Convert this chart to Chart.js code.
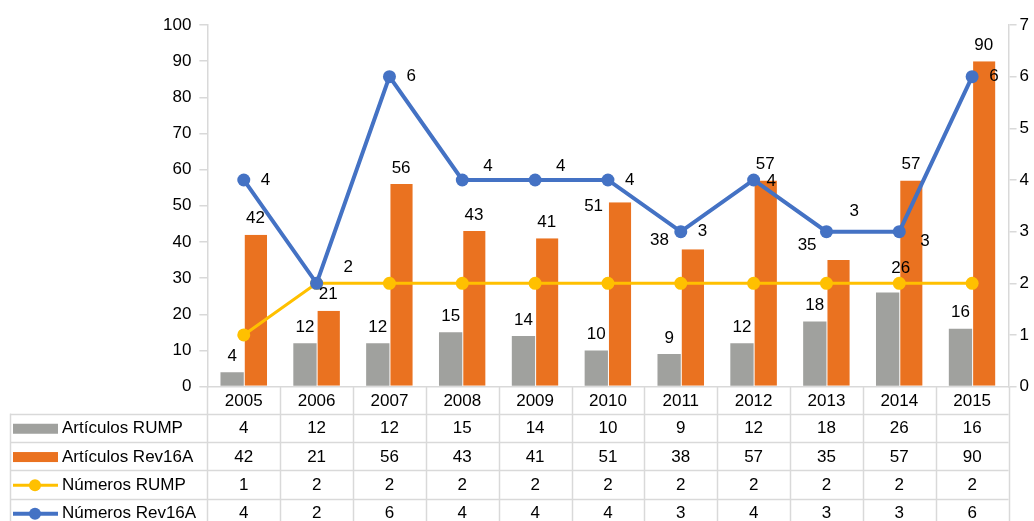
<!DOCTYPE html>
<html>
<head>
<meta charset="utf-8">
<script src="https://cdn.jsdelivr.net/npm/chart.js@4"></script>
<style>
  body { margin: 0; background: #fff; }
</style>
</head>
<body>
<canvas id="myChart" width="1034" height="521"></canvas>
<script>
// categories and series
const years = ["2005", "2006", "2007", "2008", "2009", "2010", "2011", "2012", "2013", "2014", "2015"];
const articulosRump = [4, 12, 12, 15, 14, 10, 9, 12, 18, 26, 16];
const articulosRev16A = [42, 21, 56, 43, 41, 51, 38, 57, 35, 57, 90];
const numerosRump = [1, 2, 2, 2, 2, 2, 2, 2, 2, 2, 2];
const numerosRev16A = [4, 2, 6, 4, 4, 4, 3, 4, 3, 3, 6];

const seriesNames = ["Artículos RUMP", "Artículos Rev16A", "Números RUMP", "Números Rev16A"];
const leftMax = 100;
const rightMax = 7;

const colors = {
    grey: "#a0a19e",
    orange: "#ea7220",
    yellow: "#ffc000",
    blue: "#4472c4",
    rule: "#d9d9d9",
};

const fontFamily = "'Liberation Sans', Arial, Helvetica, sans-serif";
const fontSize = 17;

// labels that were dragged aside in the original, "dataset:index" -> nudge in px
const labelNudge = {
    "0:9": { dx: 13, dy: -8 },
    "1:5": { dx: -26, dy: 20 },
    "1:6": { dx: -33, dy: 7 },
    "1:8": { dx: -31, dy: 1 },
    "3:1": { dx: 10, dy: -16 },
    "3:3": { dx: 4, dy: -14 },
    "3:4": { dx: 4, dy: -14 },
    "3:8": { dx: 6, dy: -20 },
    "3:9": { dx: 4, dy: 10 },
    "3:7": { dx: -4, dy: 1 },
};

function nudge(di, i) {
    return labelNudge[di + ":" + i] || { dx: 0, dy: 0 };
}

// value labels above bars and beside the blue points
const valueLabels = {
    id: "valueLabels",
    afterDatasetsDraw(chart) {
        const c = chart.ctx;
        c.save();
        c.font = fontSize + "px " + fontFamily;
        c.fillStyle = "#000";
        c.textBaseline = "middle";
        [0, 1].forEach((di) => {
            const meta = chart.getDatasetMeta(di);
            c.textAlign = "center";
            meta.data.forEach((bar, i) => {
                const n = nudge(di, i);
                c.fillText(String(chart.data.datasets[di].data[i]), bar.x + n.dx, bar.y - 16 + n.dy);
            });
        });
        const blue = chart.getDatasetMeta(3);
        c.textAlign = "left";
        blue.data.forEach((pt, i) => {
            const n = nudge(3, i);
            c.fillText(String(numerosRev16A[i]), pt.x + 17 + n.dx, pt.y + n.dy);
        });
        c.restore();
    },
};

// data table under the x axis
const dataTable = {
    id: "dataTable",
    afterDraw(chart) {
        const c = chart.ctx;
        const area = chart.chartArea;
        const n = years.length;
        const colW = (area.right - area.left) / n;
        const headTop = area.bottom;
        const rowTop = headTop + 27;
        const rowH = 28.3;
        const tableLeft = 10;
        const bottom = chart.height;

        const rows = [
            { name: seriesNames[0], values: articulosRump, color: colors.grey, kind: "bar" },
            { name: seriesNames[1], values: articulosRev16A, color: colors.orange, kind: "bar" },
            { name: seriesNames[2], values: numerosRump, color: colors.yellow, kind: "line", width: 3 },
            { name: seriesNames[3], values: numerosRev16A, color: colors.blue, kind: "line", width: 4 },
        ];

        c.save();
        c.strokeStyle = colors.rule;
        c.lineWidth = 1.5;

        // vertical separators
        for (let i = 0; i <= n; i++) {
            const x = Math.round(area.left + i * colW) + 0.5;
            c.beginPath();
            c.moveTo(x, headTop);
            c.lineTo(x, bottom);
            c.stroke();
        }
        c.beginPath();
        c.moveTo(tableLeft + 0.5, rowTop);
        c.lineTo(tableLeft + 0.5, bottom);
        c.stroke();

        // horizontal rules
        for (let r = 0; r <= rows.length; r++) {
            const y = Math.round(rowTop + r * rowH) + 0.5;
            c.beginPath();
            c.moveTo(tableLeft, y);
            c.lineTo(area.right, y);
            c.stroke();
        }

        c.font = fontSize + "px " + fontFamily;
        c.fillStyle = "#000";
        c.textBaseline = "middle";
        rows.forEach((row, r) => {
            const cy = rowTop + r * rowH + rowH / 2 + 1;
            // legend swatch
            if (row.kind === "bar") {
                c.fillStyle = row.color;
                c.fillRect(tableLeft + 3, cy - 5, 45, 10);
            } else {
                c.strokeStyle = row.color;
                c.lineWidth = row.width;
                c.beginPath();
                c.moveTo(tableLeft + 3, cy);
                c.lineTo(tableLeft + 48, cy);
                c.stroke();
                c.fillStyle = row.color;
                c.beginPath();
                c.arc(tableLeft + 25, cy, 6, 0, Math.PI * 2);
                c.fill();
            }
            c.fillStyle = "#000";
            c.textAlign = "left";
            c.fillText(row.name, tableLeft + 52, cy);
            c.textAlign = "center";
            row.values.forEach((v, i) => {
                c.fillText(String(v), chart.scales.x.getPixelForValue(i), cy);
            });
        });
        c.restore();
    },
};

const ctx = document.getElementById("myChart").getContext("2d");
const myChart = new Chart(ctx, {
    type: "bar",
    data: {
        labels: years,
        datasets: [
            {
                label: seriesNames[0],
                data: articulosRump,
                backgroundColor: colors.grey,
                yAxisID: "y",
                order: 2,
                categoryPercentage: 0.64,
                barPercentage: 1.0,
            },
            {
                label: seriesNames[1],
                data: articulosRev16A,
                backgroundColor: colors.orange,
                borderColor: "#ffffff",
                borderWidth: { left: 1, top: 0, right: 0, bottom: 0 },
                yAxisID: "y",
                order: 3,
                categoryPercentage: 0.64,
                barPercentage: 1.0,
            },
            {
                type: "line",
                label: seriesNames[2],
                data: numerosRump,
                borderColor: colors.yellow,
                backgroundColor: colors.yellow,
                borderWidth: 3,
                pointRadius: 6.5,
                pointBorderWidth: 0,
                yAxisID: "y1",
                order: 1,
            },
            {
                type: "line",
                label: seriesNames[3],
                data: numerosRev16A,
                borderColor: colors.blue,
                backgroundColor: colors.blue,
                borderWidth: 4,
                pointRadius: 6.5,
                pointBorderWidth: 0,
                yAxisID: "y1",
                order: 0,
            },
        ],
    },
    options: {
        responsive: false,
        animation: false,
        layout: {
            padding: { top: 25, left: 155, right: 2, bottom: 104 },
        },
        plugins: {
            legend: { display: false },
            tooltip: { enabled: false },
        },
        scales: {
            x: {
                grid: { display: false, drawTicks: false },
                border: { color: colors.rule, width: 1.5 },
                ticks: {
                    color: "#000",
                    padding: 5,
                    font: { family: fontFamily, size: fontSize },
                },
            },
            y: {
                position: "left",
                min: 0,
                max: leftMax,
                grid: { drawOnChartArea: false, color: colors.rule, tickLength: 8, lineWidth: 1.5 },
                border: { color: colors.rule, width: 1.5 },
                ticks: {
                    stepSize: 10,
                    color: "#000",
                    padding: 8,
                    font: { family: fontFamily, size: fontSize },
                },
            },
            y1: {
                position: "right",
                min: 0,
                max: rightMax,
                grid: { drawOnChartArea: false, color: colors.rule, tickLength: 8, lineWidth: 1.5 },
                border: { color: colors.rule, width: 1.5 },
                ticks: {
                    stepSize: 1,
                    color: "#000",
                    padding: 3,
                    font: { family: fontFamily, size: fontSize },
                },
            },
        },
    },
    plugins: [valueLabels, dataTable],
});
</script>
</body>
</html>
